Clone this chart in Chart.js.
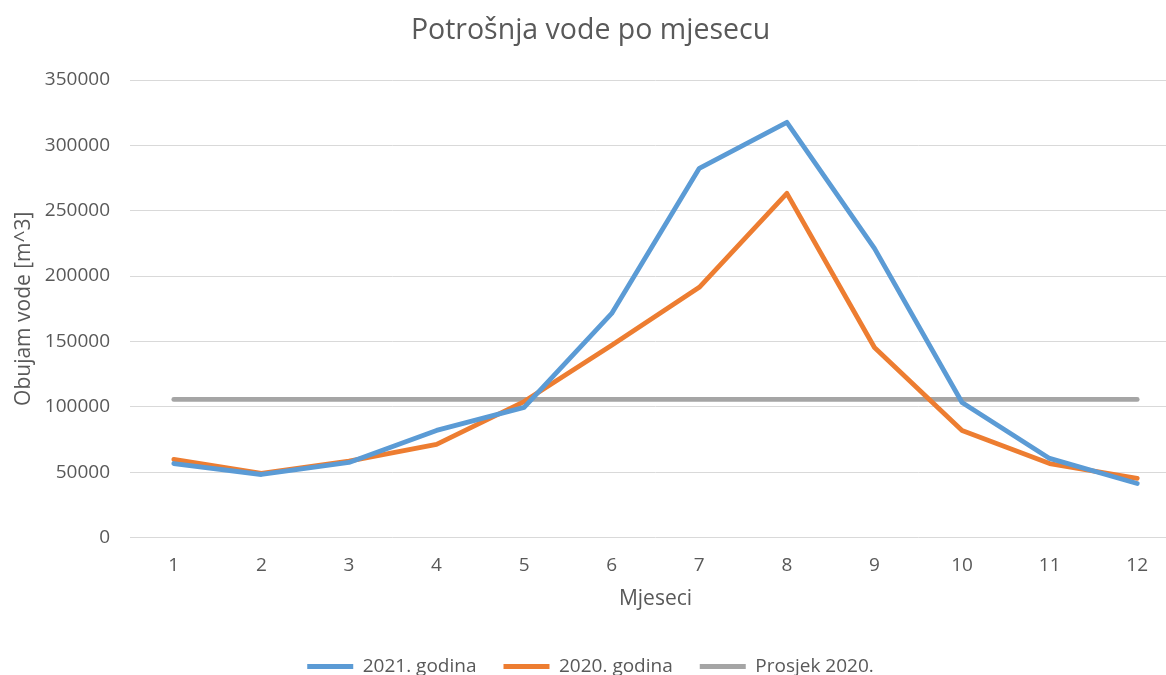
<!DOCTYPE html>
<html>
<head>
<meta charset="utf-8">
<script src="https://cdn.jsdelivr.net/npm/chart.js@4/dist/chart.umd.min.js"></script>
<style>
  html, body { margin: 0; padding: 0; background: #fff; overflow: hidden; }
  #wrap { position: absolute; left: 0; top: 0; width: 1186px; height: 688px; }
</style>
</head>
<body>
<div id="wrap"><canvas id="chart"></canvas></div>
<script>
// -----------------------------
// DATA
// -----------------------------
const months = ['1', '2', '3', '4', '5', '6', '7', '8', '9', '10', '11', '12'];
const usage2021 = [56600, 48200, 57400, 81900, 99500, 171400, 282400, 317600, 221200, 103300, 60500, 41300];
const usage2020 = [59700, 49000, 58500, 71200, 104000, 147000, 191400, 263300, 145400, 81900, 56600, 45200];
const avg2020 = [105600, 105600, 105600, 105600, 105600, 105600, 105600, 105600, 105600, 105600, 105600, 105600];

const textColor = '#595959';
const gridColor = '#d9d9d9';
Chart.defaults.font.family = '"Open Sans", "Noto Sans", sans-serif';
Chart.defaults.color = textColor;

function line(label, data, color) {
  return {
    label,
    data,
    borderColor: color,
    backgroundColor: color,
    borderWidth: 4.8,
    borderCapStyle: 'round',
    borderJoinStyle: 'round',
    pointRadius: 0,
    tension: 0
  };
}

new Chart(document.getElementById('chart'), {
  type: 'line',
  data: {
    labels: months,
    datasets: [
      line('2021. godina', usage2021, '#5b9bd5'),
      line('2020. godina', usage2020, '#ed7d31'),
      line('Prosjek 2020.', avg2020, '#a5a5a5')
    ]
  },
  options: {
    responsive: true,
    maintainAspectRatio: false,
    animation: false,
    layout: { padding: { left: 0, right: 5, top: 10, bottom: 2 } },
    plugins: {
      title: {
        display: true,
        text: 'Potrošnja vode po mjesecu',
        color: textColor,
        font: { size: 28.5, weight: 'normal' },
        padding: { top: 3.9, bottom: 31.9 }
      },
      legend: {
        position: 'bottom',
        labels: {
          usePointStyle: true,
          pointStyle: 'line',
          pointStyleWidth: 46,
          boxHeight: 19,
          padding: 27,
          color: textColor,
          font: { size: 19 }
        }
      },
      tooltip: { enabled: false }
    },
    scales: {
      x: {
        offset: true,
        grid: { display: false, drawTicks: false },
        border: { display: false },
        ticks: { color: textColor, font: { size: 19 }, padding: 17 },
        title: {
          display: true,
          text: 'Mjeseci',
          color: textColor,
          font: { size: 21 },
          padding: { top: 0, bottom: 17.9 }
        },
        afterFit: s => { s.height = 92.5; }
      },
      y: {
        min: 0,
        max: 350000,
        grid: { color: gridColor, lineWidth: 1, drawTicks: false },
        border: { display: false },
        ticks: {
          stepSize: 50000,
          color: textColor,
          font: { size: 19 },
          padding: 20,
          callback: v => String(v)
        },
        title: {
          display: true,
          text: 'Obujam vode [m^3]',
          color: textColor,
          font: { size: 21 },
          padding: { top: 11.4, bottom: 0 }
        },
        afterFit: s => { s.width = 130; }
      }
    }
  }
});
</script>
</body>
</html>
